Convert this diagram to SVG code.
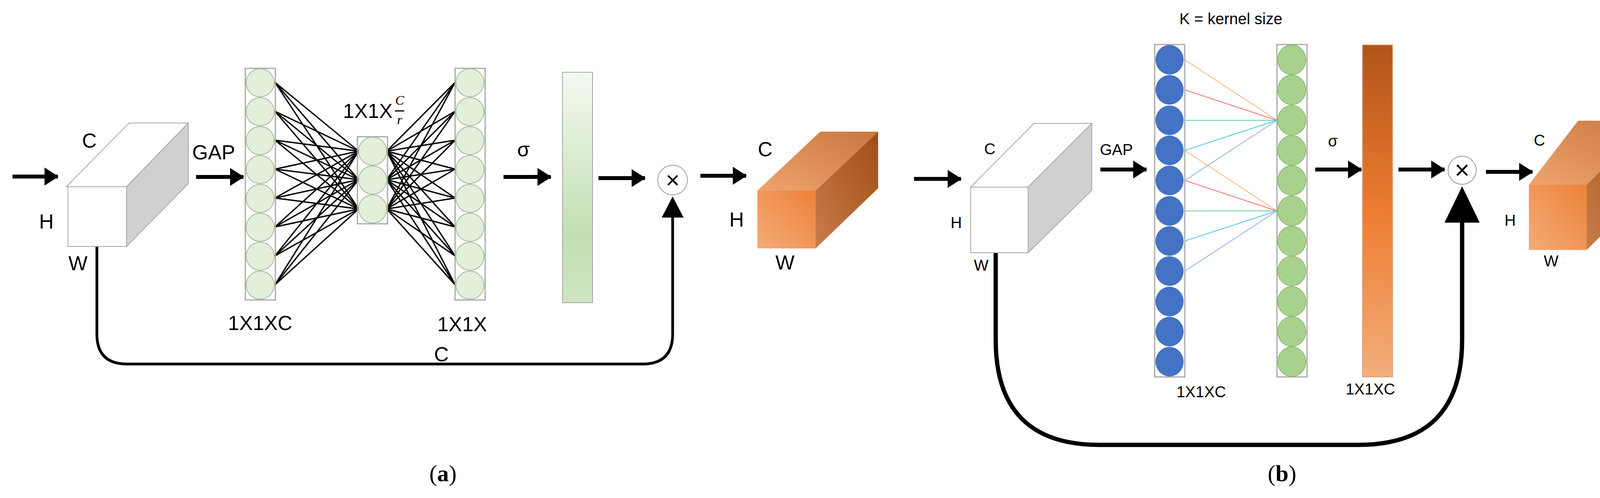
<svg xmlns="http://www.w3.org/2000/svg" width="4230" height="1275" viewBox="0 0 4230 1275">
<style>
.t{font-family:"Liberation Sans",Arial,sans-serif;fill:#000}
.ta{font-size:52px}
.tb{font-size:40px}
.ln{stroke:#000;stroke-width:3.5}
.ga{fill:#e2efda;stroke:#a5b59a;stroke-width:2}
.col{fill:none;stroke:#a6a6a6;stroke-width:3}
.arr{stroke:#000;stroke-width:10;fill:none}
.skip{fill:none;stroke:#000}
</style>
<defs>
<marker id="ah" markerUnits="userSpaceOnUse" markerWidth="40" markerHeight="50" refX="34" refY="25" orient="auto"><path d="M0,2 L36,25 L0,48 z" fill="#000"/></marker>
<linearGradient id="gbar" x1="0" y1="0" x2="0" y2="1"><stop offset="0" stop-color="#f4f9f1"/><stop offset="0.7" stop-color="#c3dfb2"/><stop offset="1" stop-color="#cfe5c2"/></linearGradient>
<linearGradient id="obar" x1="0" y1="0" x2="0" y2="1"><stop offset="0" stop-color="#b2541a"/><stop offset="0.5" stop-color="#ed7d31"/><stop offset="1" stop-color="#f3ae7c"/></linearGradient>
<linearGradient id="ofront" x1="0" y1="1" x2="1" y2="0"><stop offset="0" stop-color="#f3ab78"/><stop offset="1" stop-color="#ed8238"/></linearGradient>
<linearGradient id="otop" x1="0" y1="1" x2="1" y2="0"><stop offset="0" stop-color="#f0a46e"/><stop offset="1" stop-color="#c9773f"/></linearGradient>
<linearGradient id="oside" x1="0" y1="1" x2="1" y2="0"><stop offset="0" stop-color="#c77d4a"/><stop offset="1" stop-color="#a24d15"/></linearGradient>
</defs>

<g id="connectors">
<line class="arr" x1="32" y1="452" x2="148" y2="452" marker-end="url(#ah)"/>
<line class="arr" x1="502" y1="453" x2="623" y2="453" marker-end="url(#ah)"/>
<line class="arr" x1="1289" y1="453" x2="1410" y2="453" marker-end="url(#ah)"/>
<line class="arr" x1="1532" y1="456" x2="1651" y2="456" marker-end="url(#ah)"/>
<line class="arr" x1="1793" y1="450" x2="1910" y2="450" marker-end="url(#ah)"/>
<path class="skip" stroke-width="7" d="M248,631 V855 Q248,932 325,932 H1645 Q1722,932 1722,855 V550"/>
<polygon points="1722,503 1694,557 1750,557" fill="#000"/>

<line class="arr" x1="2340" y1="458" x2="2460" y2="458" marker-end="url(#ah)"/>
<line class="arr" x1="2817" y1="434" x2="2935" y2="434" marker-end="url(#ah)"/>
<line class="arr" x1="3367" y1="434" x2="3485" y2="434" marker-end="url(#ah)"/>
<line class="arr" x1="3580" y1="434" x2="3698" y2="434" marker-end="url(#ah)"/>
<line class="arr" x1="3804" y1="440" x2="3923" y2="440" marker-end="url(#ah)"/>
<path class="skip" stroke-width="11" d="M2549,647 V870 Q2549,1139 2815,1139 H3477 Q3743,1139 3743,870 V560"/>
<polygon points="3743,477 3698,570 3788,570" fill="#000"/>
</g>

<g id="inputA">
<polygon points="170,478 330,315 482,315 324,478" fill="#fff" stroke="#a6a6a6" stroke-width="2"/>
<polygon points="324,478 482,315 482,470 324,631" fill="#d0d0d0" stroke="#a6a6a6" stroke-width="2"/>
<rect x="174" y="478" width="150" height="153" fill="#fff" stroke="#a6a6a6" stroke-width="2"/>
<text class="t ta" x="210" y="378">C</text>
<text class="t ta" x="100" y="585">H</text>
<text class="t ta" x="175" y="692">W</text>
<text class="t ta" x="492" y="408">GAP</text>
</g>

<g id="fcA">
<g class="ln">
<line x1="704" y1="211" x2="918" y2="387"/><line x1="704" y1="211" x2="918" y2="460"/><line x1="704" y1="211" x2="918" y2="535"/>
<line x1="704" y1="285" x2="918" y2="387"/><line x1="704" y1="285" x2="918" y2="460"/><line x1="704" y1="285" x2="918" y2="535"/>
<line x1="704" y1="359" x2="918" y2="387"/><line x1="704" y1="359" x2="918" y2="460"/><line x1="704" y1="359" x2="918" y2="535"/>
<line x1="704" y1="433" x2="918" y2="387"/><line x1="704" y1="433" x2="918" y2="460"/><line x1="704" y1="433" x2="918" y2="535"/>
<line x1="704" y1="507" x2="918" y2="387"/><line x1="704" y1="507" x2="918" y2="460"/><line x1="704" y1="507" x2="918" y2="535"/>
<line x1="704" y1="581" x2="918" y2="387"/><line x1="704" y1="581" x2="918" y2="460"/><line x1="704" y1="581" x2="918" y2="535"/>
<line x1="704" y1="655" x2="918" y2="387"/><line x1="704" y1="655" x2="918" y2="460"/><line x1="704" y1="655" x2="918" y2="535"/>
<line x1="704" y1="729" x2="918" y2="387"/><line x1="704" y1="729" x2="918" y2="460"/><line x1="704" y1="729" x2="918" y2="535"/>
<line x1="1165" y1="211" x2="990" y2="387"/><line x1="1165" y1="211" x2="990" y2="460"/><line x1="1165" y1="211" x2="990" y2="535"/>
<line x1="1165" y1="285" x2="990" y2="387"/><line x1="1165" y1="285" x2="990" y2="460"/><line x1="1165" y1="285" x2="990" y2="535"/>
<line x1="1165" y1="359" x2="990" y2="387"/><line x1="1165" y1="359" x2="990" y2="460"/><line x1="1165" y1="359" x2="990" y2="535"/>
<line x1="1165" y1="433" x2="990" y2="387"/><line x1="1165" y1="433" x2="990" y2="460"/><line x1="1165" y1="433" x2="990" y2="535"/>
<line x1="1165" y1="507" x2="990" y2="387"/><line x1="1165" y1="507" x2="990" y2="460"/><line x1="1165" y1="507" x2="990" y2="535"/>
<line x1="1165" y1="581" x2="990" y2="387"/><line x1="1165" y1="581" x2="990" y2="460"/><line x1="1165" y1="581" x2="990" y2="535"/>
<line x1="1165" y1="655" x2="990" y2="387"/><line x1="1165" y1="655" x2="990" y2="460"/><line x1="1165" y1="655" x2="990" y2="535"/>
<line x1="1165" y1="729" x2="990" y2="387"/><line x1="1165" y1="729" x2="990" y2="460"/><line x1="1165" y1="729" x2="990" y2="535"/>
</g>
</g>

<g id="layer1A">
<rect class="col" x="628" y="175" width="77" height="593"/>
<ellipse class="ga" cx="666" cy="212" rx="36" ry="36"/><ellipse class="ga" cx="666" cy="286" rx="36" ry="36"/>
<ellipse class="ga" cx="666" cy="360" rx="36" ry="36"/><ellipse class="ga" cx="666" cy="434" rx="36" ry="36"/>
<ellipse class="ga" cx="666" cy="508" rx="36" ry="36"/><ellipse class="ga" cx="666" cy="582" rx="36" ry="36"/>
<ellipse class="ga" cx="666" cy="656" rx="36" ry="36"/><ellipse class="ga" cx="666" cy="730" rx="36" ry="36"/>
<text class="t ta" x="666" y="845" text-anchor="middle">1X1XC</text>
</g>
<g id="layer2A">
<rect class="col" x="915" y="350" width="77" height="223"/>
<ellipse class="ga" cx="954" cy="387" rx="36" ry="36"/><ellipse class="ga" cx="954" cy="461" rx="36" ry="36"/><ellipse class="ga" cx="954" cy="535" rx="36" ry="36"/>
<text class="t ta" x="878" y="302">1X1X</text>
<text x="1023" y="268" font-family="Liberation Serif,serif" font-style="italic" font-size="34" text-anchor="middle">C</text>
<line x1="1011" y1="284" x2="1035" y2="284" stroke="#000" stroke-width="3"/>
<text x="1023" y="318" font-family="Liberation Serif,serif" font-style="italic" font-size="34" text-anchor="middle">r</text>
</g>
<g id="layer3A">
<rect class="col" x="1165" y="175" width="77" height="593"/>
<ellipse class="ga" cx="1203" cy="212" rx="36" ry="36"/><ellipse class="ga" cx="1203" cy="286" rx="36" ry="36"/>
<ellipse class="ga" cx="1203" cy="360" rx="36" ry="36"/><ellipse class="ga" cx="1203" cy="434" rx="36" ry="36"/>
<ellipse class="ga" cx="1203" cy="508" rx="36" ry="36"/><ellipse class="ga" cx="1203" cy="582" rx="36" ry="36"/>
<ellipse class="ga" cx="1203" cy="656" rx="36" ry="36"/><ellipse class="ga" cx="1203" cy="730" rx="36" ry="36"/>
<text class="t ta" x="1183" y="848" text-anchor="middle">1X1X</text>
<text class="t ta" x="1130" y="925" text-anchor="middle">C</text>
</g>
<g id="sigmaA">
<text class="t ta" x="1340" y="400" text-anchor="middle">σ</text>
<rect x="1440" y="185" width="77" height="590" fill="url(#gbar)" stroke="#a6a6a6" stroke-width="2"/>
</g>
<g id="multA">
<circle cx="1722" cy="461" r="38" fill="#fff" stroke="#999" stroke-width="2"/>
<text class="t" x="1722" y="482" font-size="62" text-anchor="middle">×</text>
</g>
<g id="outA">
<polygon points="1939,488 2100,337 2248,337 2088,488" fill="url(#otop)"/>
<polygon points="2088,488 2248,337 2248,482 2088,636" fill="url(#oside)"/>
<rect x="1939" y="488" width="149" height="148" fill="url(#ofront)"/>
<text class="t ta" x="1940" y="400">C</text>
<text class="t ta" x="1867" y="580">H</text>
<text class="t ta" x="1985" y="690">W</text>
</g>
<text id="labelA" x="1134" y="1232" font-family="Liberation Serif,serif" font-size="60" text-anchor="middle">(<tspan font-weight="bold">a</tspan>)</text>

<text id="kernel" class="t tb" x="3151" y="62" text-anchor="middle" font-size="34">K = kernel size</text>
<g id="inputB">
<polygon points="2485,479 2647,316 2795,316 2632,479" fill="#fff" stroke="#a6a6a6" stroke-width="2"/>
<polygon points="2632,479 2795,316 2795,487 2632,647" fill="#d0d0d0" stroke="#a6a6a6" stroke-width="2"/>
<rect x="2485" y="479" width="147" height="168" fill="#fff" stroke="#a6a6a6" stroke-width="2"/>
<text class="t tb" x="2534" y="395" text-anchor="middle">C</text>
<text class="t tb" x="2448" y="584" text-anchor="middle">H</text>
<text class="t tb" x="2512" y="693" text-anchor="middle">W</text>
<text class="t tb" x="2858" y="397" text-anchor="middle">GAP</text>
</g>
<g id="ecaLines" stroke-width="2">
<line x1="3033" y1="153" x2="3269" y2="308" stroke="#f4b183"/>
<line x1="3033" y1="230" x2="3269" y2="308" stroke="#ff6b6b"/>
<line x1="3033" y1="308" x2="3269" y2="308" stroke="#5fd39b"/>
<line x1="3033" y1="385" x2="3269" y2="308" stroke="#4fc3f0"/>
<line x1="3033" y1="462" x2="3269" y2="308" stroke="#8fb0e6"/>
<line x1="3033" y1="385" x2="3269" y2="540" stroke="#f4b183"/>
<line x1="3033" y1="462" x2="3269" y2="540" stroke="#ff6b6b"/>
<line x1="3033" y1="540" x2="3269" y2="540" stroke="#5fd39b"/>
<line x1="3033" y1="617" x2="3269" y2="540" stroke="#4fc3f0"/>
<line x1="3033" y1="694" x2="3269" y2="540" stroke="#8fb0e6"/>
</g>
<g id="blueB">
<rect class="col" x="2956" y="114" width="77" height="851"/>
<g fill="#4472c4">
<ellipse cx="2994" cy="153" rx="36" ry="38"/><ellipse cx="2994" cy="230" rx="36" ry="38"/><ellipse cx="2994" cy="308" rx="36" ry="38"/>
<ellipse cx="2994" cy="385" rx="36" ry="38"/><ellipse cx="2994" cy="462" rx="36" ry="38"/><ellipse cx="2994" cy="540" rx="36" ry="38"/>
<ellipse cx="2994" cy="617" rx="36" ry="38"/><ellipse cx="2994" cy="694" rx="36" ry="38"/><ellipse cx="2994" cy="772" rx="36" ry="38"/>
<ellipse cx="2994" cy="849" rx="36" ry="38"/><ellipse cx="2994" cy="926" rx="36" ry="38"/>
</g>
<text class="t tb" x="3075" y="1017" text-anchor="middle" font-size="36">1X1XC</text>
</g>
<g id="greenB">
<rect class="col" x="3269" y="114" width="77" height="851"/>
<g fill="#a9d18e" stroke="#8cb870" stroke-width="2">
<ellipse cx="3307" cy="153" rx="36" ry="38"/><ellipse cx="3307" cy="230" rx="36" ry="38"/><ellipse cx="3307" cy="308" rx="36" ry="38"/>
<ellipse cx="3307" cy="385" rx="36" ry="38"/><ellipse cx="3307" cy="462" rx="36" ry="38"/><ellipse cx="3307" cy="540" rx="36" ry="38"/>
<ellipse cx="3307" cy="617" rx="36" ry="38"/><ellipse cx="3307" cy="694" rx="36" ry="38"/><ellipse cx="3307" cy="772" rx="36" ry="38"/>
<ellipse cx="3307" cy="849" rx="36" ry="38"/><ellipse cx="3307" cy="926" rx="36" ry="38"/>
</g>
</g>
<g id="sigmaB">
<text class="t tb" x="3412" y="375" text-anchor="middle">σ</text>
<rect x="3488" y="115" width="77" height="850" fill="url(#obar)" stroke="#d9a07a" stroke-width="2"/>
<text class="t tb" x="3508" y="1010" text-anchor="middle" font-size="36">1X1XC</text>
</g>
<g id="multB">
<circle cx="3743" cy="436" r="36" fill="#fff" stroke="#999" stroke-width="2"/>
<text class="t" x="3743" y="458" font-size="66" text-anchor="middle">×</text>
</g>
<g id="outB">
<polygon points="3914,473 4040,309 4227,309 4062,473" fill="url(#otop)"/>
<polygon points="4062,473 4227,309 4227,476 4062,640" fill="url(#oside)"/>
<rect x="3914" y="473" width="148" height="167" fill="url(#ofront)"/>
<text class="t tb" x="3941" y="373" text-anchor="middle">C</text>
<text class="t tb" x="3866" y="578" text-anchor="middle">H</text>
<text class="t tb" x="3971" y="682" text-anchor="middle">W</text>
</g>
<text id="labelB" x="3282" y="1232" font-family="Liberation Serif,serif" font-size="60" text-anchor="middle">(<tspan font-weight="bold">b</tspan>)</text>
</svg>
